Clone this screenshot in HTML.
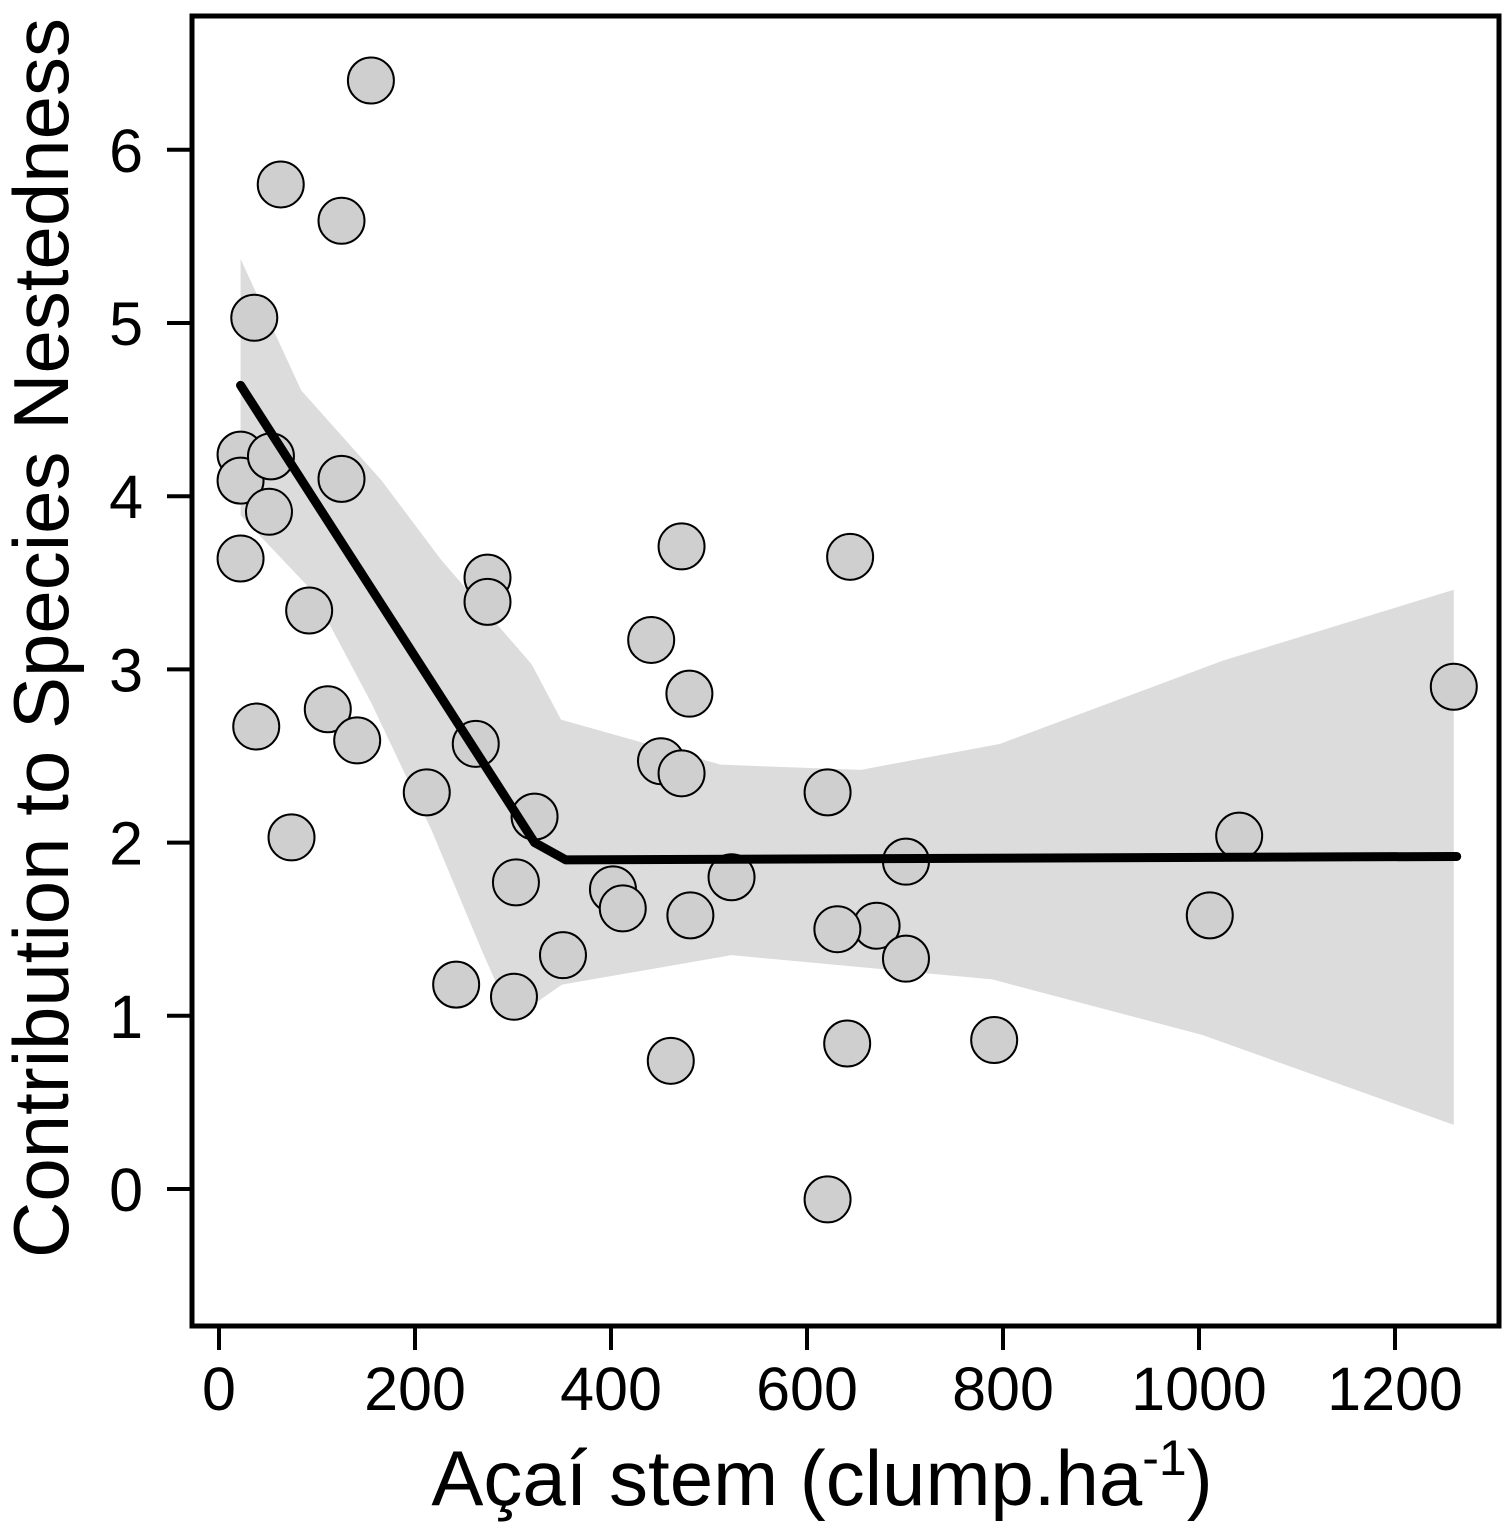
<!DOCTYPE html>
<html><head><meta charset="utf-8"><style>
html,body{margin:0;padding:0;background:#fff;}
svg{display:block;font-family:"Liberation Sans",sans-serif;}
</style></head><body>
<svg id="chart" width="1508" height="1533" viewBox="0 0 1508 1533">
<g id="band"></g>
<g id="pts"></g>
<g id="fit"></g>
<rect x="192" y="16" width="1307" height="1310" fill="none" stroke="#000" stroke-width="5"/>
<g id="axes"></g>
<text x="822" y="1505" font-size="78" text-anchor="middle">Açaí stem (clump.ha<tspan font-size="50" dy="-30">-1</tspan><tspan dy="30">)</tspan></text>
<text transform="translate(68,638) rotate(-90)" font-size="78" text-anchor="middle">Contribution to Species Nestedness</text>
</svg>
<script>
const xVals=[155,63,125,36,22,22,53,125,51,22,92,274,274,472,644,441,480,1260,38,111,141,262,451,472,621,212,74,322,1041,701,523,303,402,412,481,1011,671,631,351,701,242,301,641,791,461,621];
const yVals=[6.40,5.80,5.59,5.03,4.24,4.09,4.23,4.10,3.91,3.64,3.34,3.53,3.39,3.71,3.65,3.17,2.86,2.90,2.67,2.77,2.59,2.57,2.47,2.40,2.29,2.29,2.03,2.15,2.04,1.89,1.80,1.77,1.73,1.62,1.58,1.58,1.52,1.50,1.35,1.33,1.18,1.11,0.84,0.86,0.74,-0.06];
const fitX=[22,322,354,1263];
const fitY=[4.64,2.0,1.90,1.92];
const bandUpX=[22,84,166,227,319,349,512,655,797,1024,1260];
const bandUpY=[5.37,4.61,4.09,3.63,3.03,2.71,2.45,2.42,2.57,3.05,3.46];
const bandLoX=[22,94,156,217,268,299,350,523,789,1003,1260];
const bandLoY=[3.89,3.46,2.80,2.07,1.38,0.98,1.18,1.35,1.21,0.89,0.37];
const xTicks=[0,200,400,600,800,1000,1200];
const yTicks=[0,1,2,3,4,5,6];
const sx=v=>219+v*0.98, sy=v=>1189-v*173.2;
const NS='http://www.w3.org/2000/svg';
function mk(t,a,p){const e=document.createElementNS(NS,t);for(const k in a)e.setAttribute(k,a[k]);p.appendChild(e);return e;}
let d='M'+bandUpX.map((x,i)=>sx(x)+','+sy(bandUpY[i])).join('L');
for(let i=bandLoX.length-1;i>=0;i--)d+='L'+sx(bandLoX[i])+','+sy(bandLoY[i]);
const b=mk('path',{d:d+'Z',fill:'#dcdcdc'},document.getElementById('band'));


const pg=document.getElementById('pts');
xVals.forEach((x,i)=>{const c=mk('circle',{cx:sx(x),cy:sy(yVals[i]),r:23,fill:'#cfcfcf',stroke:'#000','stroke-width':2},pg);

});
const l=mk('polyline',{points:fitX.map((x,i)=>sx(x)+','+sy(fitY[i])).join(' '),fill:'none',stroke:'#000','stroke-width':9,'stroke-linejoin':'round','stroke-linecap':'round'},document.getElementById('fit'));


const ax=document.getElementById('axes');
mk('line',{x1:sx(0),x2:sx(1200),y1:1326,y2:1326,stroke:'#000','stroke-width':4},ax);
mk('line',{x1:192,x2:192,y1:sy(0),y2:sy(6),stroke:'#000','stroke-width':4},ax);
xTicks.forEach(v=>{mk('line',{x1:sx(v),x2:sx(v),y1:1326,y2:1350,stroke:'#000','stroke-width':4},ax);
const t=mk('text',{x:sx(v),y:1410,'font-size':61,'text-anchor':'middle'},ax);t.textContent=v;

});
yTicks.forEach(v=>{mk('line',{x1:167,x2:192,y1:sy(v),y2:sy(v),stroke:'#000','stroke-width':4},ax);
const t=mk('text',{x:143,y:sy(v)+22,'font-size':61,'text-anchor':'end'},ax);t.textContent=v;

});
</script>
</body></html>
